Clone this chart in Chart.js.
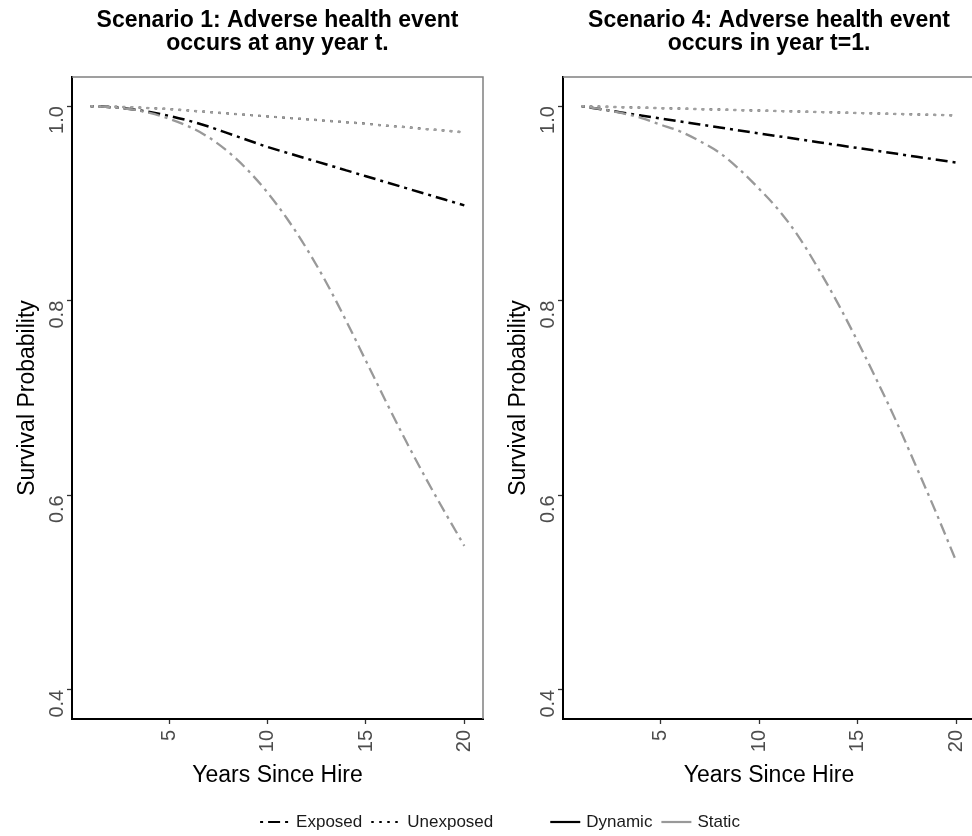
<!DOCTYPE html>
<html><head><meta charset="utf-8">
<script src="https://cdn.jsdelivr.net/npm/chart.js@4.4.0/dist/chart.umd.min.js"></script>
<style>
html,body{margin:0;padding:0;background:#fff;overflow:hidden;}
#wrap{position:relative;width:972px;height:836px;overflow:hidden;background:#fff;}
canvas{position:absolute;left:0;top:0;}
</style></head><body>
<div id="wrap"><canvas id="c1" width="1000" height="836"></canvas><canvas id="c2" width="1000" height="836"></canvas></div>
<script>
// ---- data ----
const years = [1,2,3,4,5,6,7,8,9,10,11,12,13,14,15,16,17,18,19,20];
const xTicks = [5,10,15,20];
const yTicks = [0.4,0.6,0.8,1.0];
const title1 = ['Scenario 1: Adverse health event','occurs at any year t.'];
const title4 = ['Scenario 4: Adverse health event','occurs in year t=1.'];
const xTitle = 'Years Since Hire';
const yTitle = 'Survival Probability';
const legendLinetype = ['Exposed','Unexposed'];
const legendColour = ['Dynamic','Static'];

const s1DynamicExposed   = [1.000,0.999,0.997,0.994,0.990,0.985,0.979,0.972,0.965,0.958,0.952,0.946,0.940,0.934,0.928,0.922,0.916,0.910,0.904,0.898];
const s1DynamicUnexposed = [1.000,0.9995,0.999,0.998,0.997,0.9955,0.994,0.9925,0.991,0.9895,0.988,0.9865,0.985,0.9835,0.982,0.980,0.9785,0.9765,0.975,0.973];
const s1StaticExposed    = [1.000,0.999,0.997,0.993,0.987,0.979,0.968,0.953,0.934,0.911,0.884,0.853,0.818,0.779,0.738,0.697,0.657,0.619,0.583,0.548];
const s1StaticUnexposed  = [1.000,0.9995,0.999,0.998,0.997,0.9955,0.994,0.9925,0.991,0.9895,0.988,0.9865,0.985,0.9835,0.982,0.980,0.9785,0.9765,0.975,0.973];

const s4DynamicExposed   = [1.000,0.9968,0.9936,0.9905,0.9874,0.9843,0.9812,0.9781,0.9750,0.9720,0.9690,0.9660,0.9630,0.9600,0.9570,0.9540,0.9510,0.9480,0.9450,0.9420];
const s4DynamicUnexposed = [1.000,0.9995,0.999,0.9985,0.998,0.9975,0.997,0.9965,0.996,0.9955,0.995,0.9945,0.994,0.9935,0.993,0.9925,0.992,0.9915,0.991,0.9905];
const s4StaticExposed    = [1.000,0.997,0.993,0.988,0.981,0.974,0.964,0.952,0.935,0.915,0.893,0.866,0.833,0.797,0.758,0.717,0.674,0.628,0.581,0.532];
const s4StaticUnexposed  = [1.000,0.9995,0.999,0.9985,0.998,0.9975,0.997,0.9965,0.996,0.9955,0.995,0.9945,0.994,0.9935,0.993,0.9925,0.992,0.9915,0.991,0.9905];

// ---- styles ----
const FONT = '"Liberation Sans", Arial, Helvetica, sans-serif';
const DASHDOT = [3, 5, 12, 5];
const DOTTED = [2.5, 5.5];
const BLACK = '#000000';
const GREY = '#999999';

function pts(arr){ return years.map((x,i)=>({x:x, y:arr[i]})); }
function makeDatasets(de, du, se, su){
  const base = {pointRadius:0, fill:false, cubicInterpolationMode:'monotone', borderCapStyle:'butt', borderJoinStyle:'round'};
  return [
    Object.assign({label:'Dynamic Exposed', data:pts(de), borderColor:BLACK, borderWidth:2.5, borderDash:DASHDOT, order:3}, base),
    Object.assign({label:'Dynamic Unexposed', data:pts(du), borderColor:BLACK, borderWidth:2, borderDash:DOTTED, order:2}, base),
    Object.assign({label:'Static Exposed', data:pts(se), borderColor:GREY, borderWidth:2.3, borderDash:DASHDOT, order:1}, base),
    Object.assign({label:'Static Unexposed', data:pts(su), borderColor:'#a0a0a0', borderWidth:2.4, borderDash:DOTTED, order:0}, base)
  ];
}

const framePlugin = {
  id:'frame',
  afterDraw(chart){
    const {ctx, chartArea:a} = chart;
    ctx.save();
    ctx.strokeStyle = '#808080'; ctx.lineWidth = 1.5;
    ctx.beginPath();
    ctx.moveTo(a.left, a.top); ctx.lineTo(a.right, a.top); ctx.lineTo(a.right, a.bottom);
    ctx.stroke();
    // rotated y tick labels
    const ys = chart.scales.y;
    ctx.fillStyle = '#4d4d4d';
    ctx.font = '20px ' + FONT;
    ctx.textAlign = 'right';
    ctx.textBaseline = 'alphabetic';
    yTicks.forEach(v=>{
      const py = ys.getPixelForValue(v);
      ctx.save();
      ctx.translate(a.left - 9, py);
      ctx.rotate(-Math.PI/2);
      ctx.fillText(v.toFixed(1), 0, 0);
      ctx.restore();
    });
    ctx.restore();
  }
};

const legendPlugin = {
  id:'customLegend',
  afterDraw(chart){
    const ctx = chart.ctx;
    const ds = chart.data.datasets;
    const groups = [
      [{text:legendLinetype[0], color:BLACK, dash:ds[0].borderDash, w:2.2},
       {text:legendLinetype[1], color:BLACK, dash:ds[1].borderDash, w:2.2}],
      [{text:legendColour[0], color:ds[0].borderColor, dash:[], w:2.2},
       {text:legendColour[1], color:ds[2].borderColor, dash:[], w:2.2}]
    ];
    ctx.save();
    ctx.font = '17px ' + FONT;
    const sample = 30, textOff = 36, itemGap = 9, groupGap = 57;
    let total = 0;
    groups.forEach((g,gi)=>{
      g.forEach((it,ii)=>{
        total += textOff + ctx.measureText(it.text).width;
        if (ii < g.length-1) total += itemGap;
      });
      if (gi < groups.length-1) total += groupGap;
    });
    let x = 500 - total/2;
    const y = 822;
    groups.forEach((g,gi)=>{
      g.forEach((it,ii)=>{
        ctx.strokeStyle = it.color; ctx.lineWidth = it.w; ctx.setLineDash(it.dash); ctx.lineCap = 'butt';
        ctx.beginPath(); ctx.moveTo(x, y); ctx.lineTo(x+sample, y); ctx.stroke();
        ctx.setLineDash([]);
        ctx.fillStyle = '#1a1a1a'; ctx.textAlign = 'left'; ctx.textBaseline = 'middle';
        ctx.fillText(it.text, x+textOff, y);
        x += textOff + ctx.measureText(it.text).width;
        if (ii < g.length-1) x += itemGap;
      });
      if (gi < groups.length-1) x += groupGap;
    });
    ctx.restore();
  }
};

function makeChart(id, titleLines, datasets, padL, padR, extraPlugins){
  return new Chart(document.getElementById(id), {
    type:'line',
    data:{datasets:datasets},
    options:{
      responsive:false, animation:false, devicePixelRatio:1,
      layout:{padding:{left:padL, right:padR, top:0, bottom:45}},
      plugins:{
        legend:{display:false}, tooltip:{enabled:false},
        title:{display:true, text:titleLines, fullSize:false, color:'#000',
               font:{family:FONT, size:23, weight:'bold', lineHeight:'23px'}, padding:{top:9, bottom:22}}
      },
      scales:{
        x:{type:'linear', min:0.05, max:20.95,
           afterBuildTicks:s=>{ s.ticks = xTicks.map(v=>({value:v})); },
           afterFit:s=>{ s.height = 72; },
           ticks:{minRotation:90, maxRotation:90, padding:6, color:'#4d4d4d', font:{family:FONT, size:20}, callback:v=>String(v)},
           grid:{display:true, drawOnChartArea:false, drawTicks:true, tickLength:5, tickColor:'#333', tickWidth:1.3},
           border:{display:true, color:'#000', width:2},
           title:{display:true, text:xTitle, color:'#000', font:{family:FONT, size:23}, padding:{top:0, bottom:2}}},
        y:{type:'linear', min:0.37, max:1.03,
           afterBuildTicks:s=>{ s.ticks = yTicks.map(v=>({value:v})); },
           afterFit:s=>{ s.width = 72; },
           ticks:{display:false},
           grid:{display:true, drawOnChartArea:false, drawTicks:true, tickLength:5, tickColor:'#333', tickWidth:1.3},
           border:{display:true, color:'#000', width:2},
           title:{display:true, text:yTitle, color:'#000', font:{family:FONT, size:23}, padding:{top:14, bottom:0}}}
      }
    },
    plugins:[framePlugin].concat(extraPlugins)
  });
}

makeChart('c1', title1, makeDatasets(s1DynamicExposed, s1DynamicUnexposed, s1StaticExposed, s1StaticUnexposed), 0, 517, []);
makeChart('c2', title4, makeDatasets(s4DynamicExposed, s4DynamicUnexposed, s4StaticExposed, s4StaticUnexposed), 491, 25, [legendPlugin]);
</script>
</body></html>
